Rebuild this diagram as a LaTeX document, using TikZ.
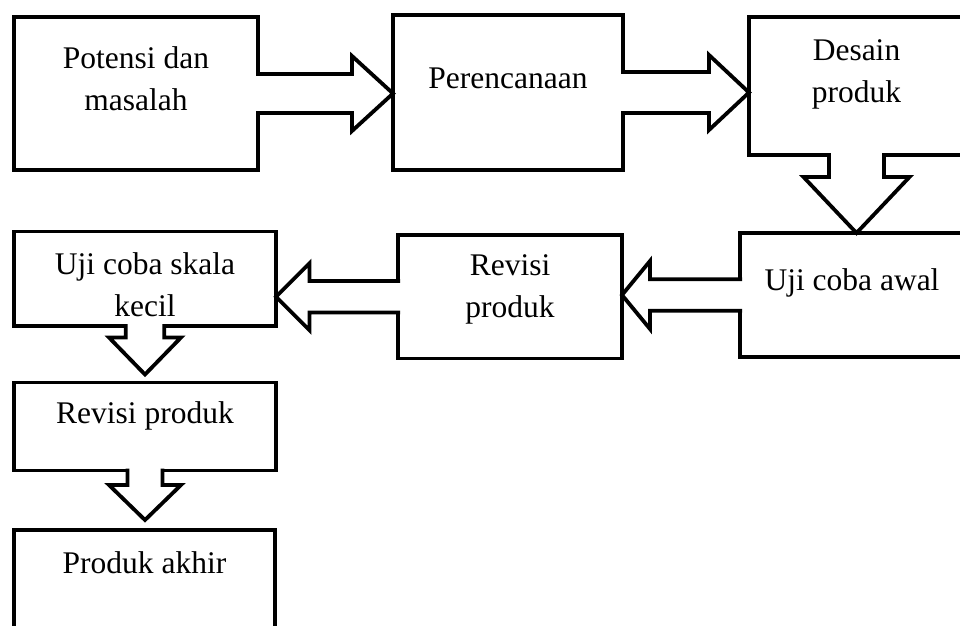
\documentclass[tikz,border=0pt]{standalone}
\usepackage{fontspec}
\setmainfont{Liberation Serif}
\usetikzlibrary{calc}
\tikzset{
  box/.style={draw,rectangle,fill=white,line width=3.8pt,anchor=north west,
    outer sep=0pt,inner sep=0pt,align=center,text height=0pt,text depth=0pt,
    font=\fontsize{31.5}{42}\selectfont},
  blockarr/.style={draw,fill=white,line width=3.8pt,line join=miter},
}
% hollow block arrow: from, to, shaft half width, head half width, head length, gap
\newcommand{\blockarrow}[6]{%
  \path (#1) coordinate (ba-s) (#2) coordinate (ba-e);
  \path ($(ba-s)!-2pt!(ba-e)$) coordinate (ba-a)
        ($(ba-e)!#6!(ba-s)$) coordinate (ba-t);
  \path ($(ba-t)!#5!(ba-s)$) coordinate (ba-n);
  \filldraw[blockarr]
    ($(ba-a)!#3!90:(ba-t)$) -- ($(ba-n)!#3!90:(ba-t)$) -- ($(ba-n)!#4!90:(ba-t)$)
    -- (ba-t)
    -- ($(ba-n)!#4!-90:(ba-t)$) -- ($(ba-n)!#3!-90:(ba-t)$) -- ($(ba-a)!#3!-90:(ba-t)$);
}

\begin{document}
\begin{tikzpicture}[x=1pt,y=-1pt]
  \useasboundingbox (0,0) rectangle (960,625);
  \clip (0,0) rectangle (960,625);

  % first row
  \node[box,minimum width=244pt,minimum height=153pt,text height=33pt] (potensi) at (14,17) {Potensi dan\\masalah};
  \node[box,minimum width=230pt,minimum height=155pt,text depth=9pt] (rencana) at (393,15) {Perencanaan};
  \node[box,minimum width=215pt,minimum height=138pt,text height=32pt] (desain) at (749,17) {Desain\\produk};

  % second row
  \node[box,minimum width=224pt,minimum height=124pt,text depth=10pt] (ujiawal) at (740,233) {Uji coba awal};
  \node[box,minimum width=224pt,minimum height=123.5pt,text height=40.5pt] (revisia) at (398,235) {Revisi\\produk};
  \node[box,minimum width=262pt,minimum height=94.5pt,text height=76pt] (ujikecil) at (14,231.5) {Uji coba skala\\kecil};

  % left column
  \node[box,minimum width=262pt,minimum height=88pt,text depth=7pt] (revisib) at (14,382.5) {Revisi produk};
  \node[box,minimum width=261pt,minimum height=130pt,text depth=44pt] (akhir) at (14,530) {Produk akhir};

  \blockarrow{potensi.east}{potensi.east -| rencana.west}{19.5pt}{37.5pt}{41pt}{0pt}
  \blockarrow{rencana.east}{rencana.east -| desain.west}{20.5pt}{37.5pt}{40pt}{0pt}
  \blockarrow{desain.south}{desain.south |- ujiawal.north}{27.5pt}{53pt}{56pt}{0pt}
  \blockarrow{ujiawal.west}{ujiawal.west -| revisia.east}{15.8pt}{34pt}{28pt}{0pt}
  \blockarrow{revisia.west}{revisia.west -| ujikecil.east}{15.7pt}{33.5pt}{33.5pt}{0pt}
  \blockarrow{ujikecil.south}{ujikecil.south |- revisib.north}{19.3pt}{36pt}{37pt}{8pt}
  \blockarrow{revisib.south}{revisib.south |- akhir.north}{17.5pt}{36pt}{35pt}{10pt}
\end{tikzpicture}
\end{document}
